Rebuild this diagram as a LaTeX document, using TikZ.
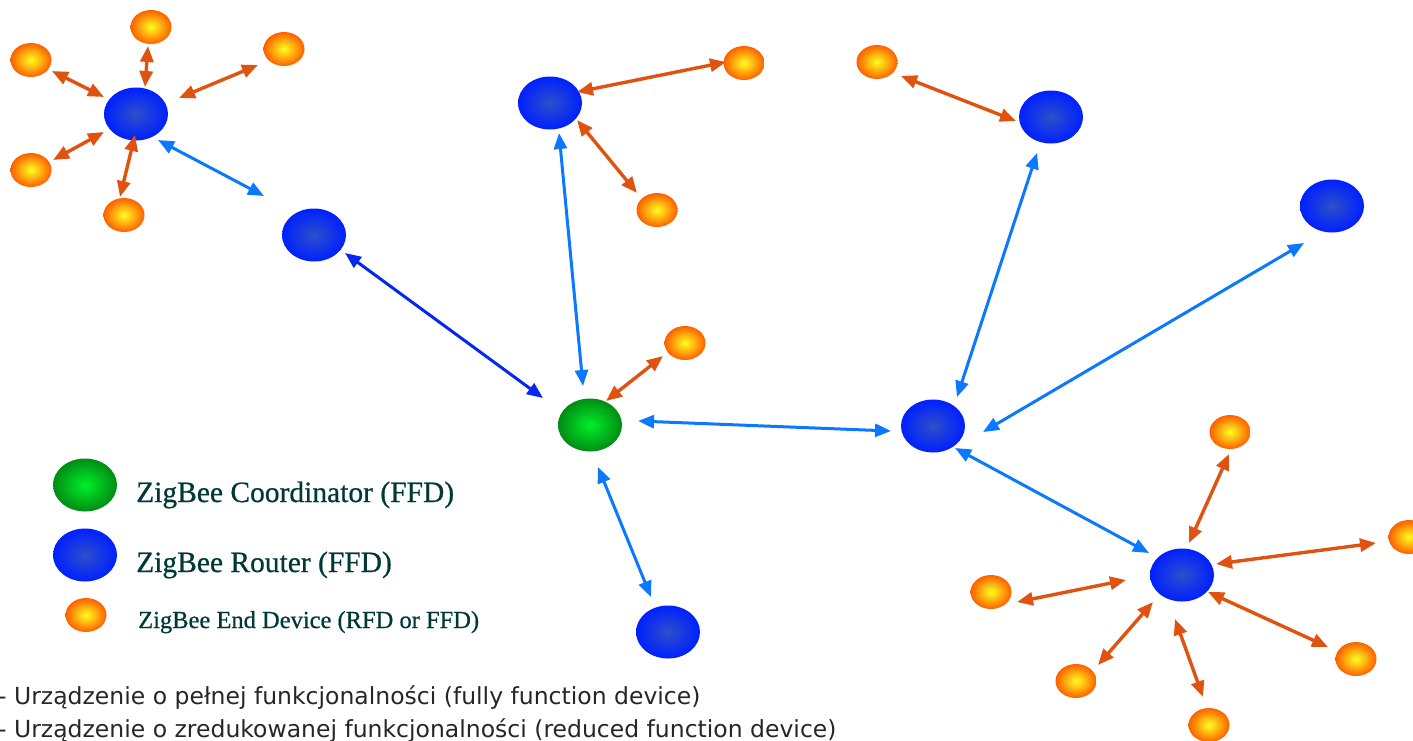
\documentclass[tikz,border=0pt]{standalone}
\usepackage{fontspec}
\setmainfont{Liberation Serif}
\newfontfamily\legfont[FakeBold=0.6]{Liberation Serif}
\newfontfamily\sansf{DejaVu Sans}
\usetikzlibrary{shapes.geometric,arrows.meta,calc}
\definecolor{arrorange}{RGB}{224,82,15}
\definecolor{arrblue}{RGB}{10,120,255}
\definecolor{arrdblue}{RGB}{5,40,240}
\definecolor{legtext}{RGB}{0,55,55}
\definecolor{rinner}{RGB}{45,80,200}
\definecolor{router}{RGB}{0,32,255}
\definecolor{ginner}{RGB}{0,240,40}
\definecolor{gouter}{RGB}{0,140,20}
\definecolor{oinner}{RGB}{255,255,30}
\definecolor{oouter}{RGB}{255,95,0}
\begin{document}
\begin{tikzpicture}[x=1pt,y=-1pt,
  routerbox/.style={ellipse,minimum width=64pt,minimum height=53pt,inner sep=0pt,shading=radial,inner color=rinner,outer color=router},
  coordbox/.style={ellipse,minimum width=64pt,minimum height=53pt,inner sep=0pt,shading=radial,inner color=ginner,outer color=gouter},
  enddev/.style={ellipse,minimum width=41pt,minimum height=34pt,inner sep=0pt,shading=radial,inner color=oinner,outer color=oouter},
  tipo/.tip={Triangle[length=16pt,width=13pt]},
  oarrow/.style={draw=arrorange,line width=3.4pt,tipo-tipo},
  barrow/.style={draw=arrblue,line width=3pt,tipo-tipo},
  dbarrow/.style={draw=arrdblue,line width=3pt,tipo-tipo},
  legbig/.style={anchor=base west,inner sep=0pt,text=legtext,font=\legfont\fontsize{29.5}{34}\selectfont},
  legsmall/.style={anchor=base west,inner sep=0pt,text=legtext,font=\legfont\fontsize{24.5}{28}\selectfont},
  bottomtext/.style={anchor=base west,inner sep=0pt,text=black!85,font=\sansf\fontsize{23.5}{28}\selectfont}
]
\useasboundingbox (0,0) rectangle (1413,740);
\clip (0,0) rectangle (1413,740);

% routers and coordinator
\node[routerbox] (R1) at (136,114) {};
\node[routerbox] (R2) at (314,235) {};
\node[routerbox] (R3) at (550,103) {};
\node[routerbox] (R4) at (1051,117) {};
\node[routerbox] (R5) at (1332,206) {};
\node[routerbox] (R6) at (933,426) {};
\node[routerbox] (R7) at (1182,575) {};
\node[routerbox] (R8) at (668,632) {};
\node[coordbox] (C) at (590,425) {};

% end devices
\node[enddev] (a1) at (151,27) {};
\node[enddev] (a2) at (284,49) {};
\node[enddev] (a3) at (31,60) {};
\node[enddev] (a4) at (31,170) {};
\node[enddev] (a5) at (124,215) {};
\node[enddev] (b1) at (744,63) {};
\node[enddev] (b2) at (657,210) {};
\node[enddev] (c1) at (877,62) {};
\node[enddev] (d1) at (685,343) {};
\node[enddev] (e1) at (1230,432) {};
\node[enddev] (e2) at (1409,537) {};
\node[enddev] (e3) at (991,592) {};
\node[enddev] (e4) at (1356,659) {};
\node[enddev] (e5) at (1076,681) {};
\node[enddev] (e6) at (1209,725) {};

% orange links
\draw[oarrow] ($(R1)+(9,-27)$) -- ($(a1)+(-3,19)$);
\draw[oarrow] ($(R1)+(43,-16)$) -- ($(a2)+(-26,16)$);
\draw[oarrow] ($(R1)+(-32,-17)$) -- ($(a3)+(21,11)$);
\draw[oarrow] ($(R1)+(-32,18)$) -- ($(a4)+(22,-10)$);
\draw[oarrow] ($(R1)+(-1,21)$) -- ($(a5)+(-4,-18)$);
\draw[oarrow] ($(R3)+(27,-11)$) -- ($(b1)+(-18,-1)$);
\draw[oarrow] ($(R3)+(27,17)$) -- ($(b2)+(-20,-17)$);
\draw[oarrow] ($(R4)+(-35,4)$) -- ($(c1)+(24,14)$);
\draw[oarrow] ($(C)+(16,-24)$) -- ($(d1)+(-22,13)$);
\draw[oarrow] ($(R7)+(7,-32)$) -- ($(e1)+(-1,22)$);
\draw[oarrow] ($(R7)+(34,-11)$) -- ($(e2)+(-33,6)$);
\draw[oarrow] ($(R7)+(-56,5)$) -- ($(e3)+(26,10)$);
\draw[oarrow] ($(R7)+(26,17)$) -- ($(e4)+(-28,-12)$);
\draw[oarrow] ($(R7)+(-29,27)$) -- ($(e5)+(22,-16)$);
\draw[oarrow] ($(R7)+(-7,44)$) -- ($(e6)+(-6,-28)$);

% blue links
\draw[barrow] ($(R1)+(22,26)$) -- ($(R2)+(-50,-39)$);
\draw[dbarrow] ($(R2)+(31,18)$) -- ($(C)+(-47,-27)$);
\draw[barrow] ($(R3)+(9,30)$) -- ($(C)+(-7,-39)$);
\draw[barrow] ($(C)+(48,-4)$) -- ($(R6)+(-42,5)$);
\draw[barrow] ($(C)+(8,42)$) -- ($(R8)+(-17,-35)$);
\draw[barrow] ($(R6)+(24,-29)$) -- ($(R4)+(-14,36)$);
\draw[barrow] ($(R6)+(50,6)$) -- ($(R5)+(-28,37)$);
\draw[barrow] ($(R6)+(22,22)$) -- ($(R7)+(-33,-22)$);

% legend
\node[coordbox] (LC) at (85,485) {};
\node[routerbox] (LR) at (85,555) {};
\node[enddev] (LE) at (86,615) {};
\node[legbig] (tC) at (136,502) {ZigBee Coordinator (FFD)};
\node[legbig] (tR) at (136,572) {ZigBee Router (FFD)};
\node[legsmall] (tE) at (138,628) {ZigBee End Device (RFD or FFD)};

% bottom notes
\node[bottomtext] (n1) at (-2,704) {- Urządzenie o pełnej funkcjonalności (fully function device)};
\node[bottomtext] (n2) at (-2,737) {- Urządzenie o zredukowanej funkcjonalności (reduced function device)};
\end{tikzpicture}
\end{document}
